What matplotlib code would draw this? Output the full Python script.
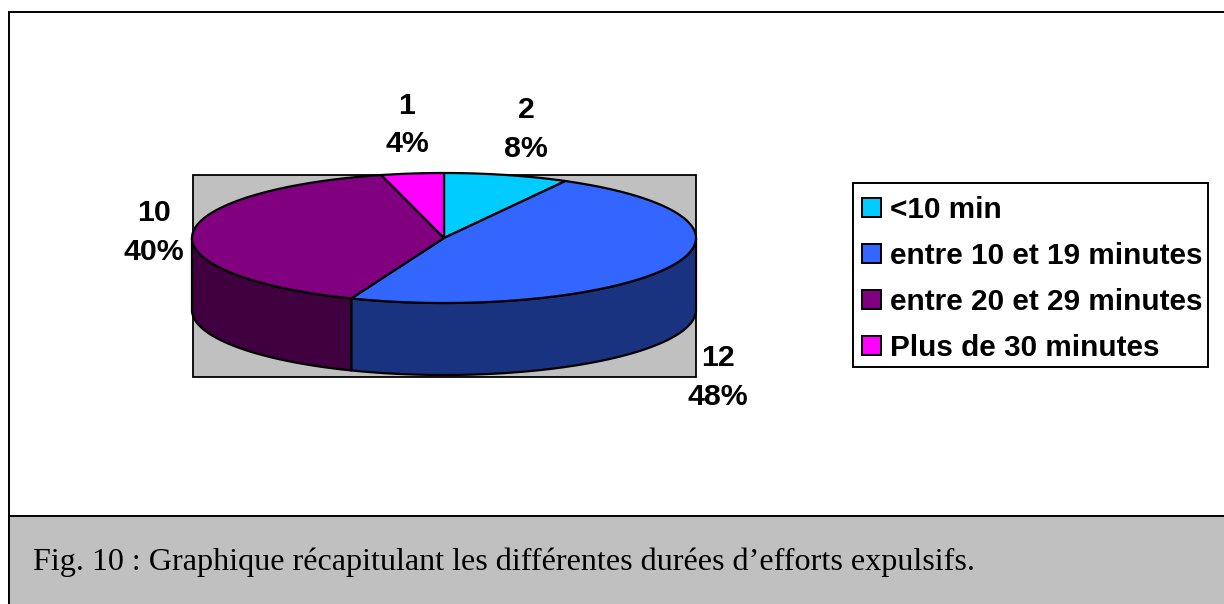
import numpy as np
import matplotlib
matplotlib.use("Agg")
import matplotlib.pyplot as plt
from matplotlib.patches import Polygon, Rectangle

categories = ["<10 min", "entre 10 et 19 minutes", "entre 20 et 29 minutes", "Plus de 30 minutes"]
values = [2, 12, 10, 1]
percents = ["8%", "48%", "40%", "4%"]
caption = "Fig. 10 : Graphique récapitulant les différentes durées d’efforts expulsifs."

top_colors = ["#00CCFF", "#3366FF", "#800080", "#FF00FF"]
side_colors = ["#006680", "#193380", "#400040", "#800080"]
label_pos = [(526, 129.5), (718, 377.5), (154, 232.5), (407, 125)]

W, H = 1224, 604
CX, CY, RX, RY, DEPTH = 444, 238, 252, 65, 72
plt.rcParams["font.family"] = ["Liberation Sans", "DejaVu Sans"]

fig = plt.figure(figsize=(W / 100, H / 100), dpi=100)
ax = fig.add_axes([0, 0, 1, 1])
ax.set_xlim(0, W)
ax.set_ylim(H, 0)
ax.axis("off")

# Frame and caption band
ax.add_patch(Rectangle((8.5, 11.5), W, H, fc="white", ec="black", lw=1.4, zorder=0))
ax.add_patch(Rectangle((8.5, 515.5), W, 90, fc="#C0C0C0", ec="black", lw=1.4, zorder=1))
ax.text(33, 562, caption, family=["Liberation Serif"], fontsize=23.1, va="center", ha="left", color="black", zorder=2)

# Plot area
ax.add_patch(Rectangle((192.5, 174.5), 503, 202, fc="#C0C0C0", ec="black", lw=1.3, zorder=1))


def pt(deg, dy=0):
    a = np.radians(deg)
    return CX + RX * np.sin(a), CY - RY * np.cos(a) + dy


fractions = np.array(values) / sum(values)
edges = np.concatenate([[0], np.cumsum(fractions) * 360])

# Outer walls (front half of the ellipse only)
for i in range(len(values)):
    a0, a1 = max(edges[i], 90), min(edges[i + 1], 270)
    if a1 <= a0:
        continue
    t = np.linspace(a0, a1, 120)
    upper = [pt(d) for d in t]
    lower = [pt(d, DEPTH) for d in t[::-1]]
    ax.add_patch(Polygon(upper + lower, closed=True, fc=side_colors[i], ec="black", lw=1.6, joinstyle="round", zorder=3))

# Top faces
for i in range(len(values)):
    t = np.linspace(edges[i], edges[i + 1], 160)
    ax.add_patch(Polygon([(CX, CY)] + [pt(d) for d in t], closed=True, fc=top_colors[i], ec="black", lw=1.6, joinstyle="round", zorder=4))

# Data labels
for (x, y), v, p in zip(label_pos, values, percents):
    ax.text(x, y, f"{v}\n{p}", fontsize=21.8, fontweight="bold", ha="center", va="center", linespacing=1.48, zorder=6)

# Legend
ax.add_patch(Rectangle((852.5, 182.5), 355.5, 184.5, fc="white", ec="black", lw=1.4, zorder=3))
for i, name in enumerate(categories):
    y = 207.5 + 46 * i
    ax.add_patch(Rectangle((861.5, y - 9.5), 19, 19, fc=top_colors[i], ec="black", lw=1.4, zorder=4))
    ax.text(890, y + 3, name, fontsize=21.4, fontweight="bold", ha="left", va="center", zorder=5)

fig.savefig("out.png", dpi=100)
